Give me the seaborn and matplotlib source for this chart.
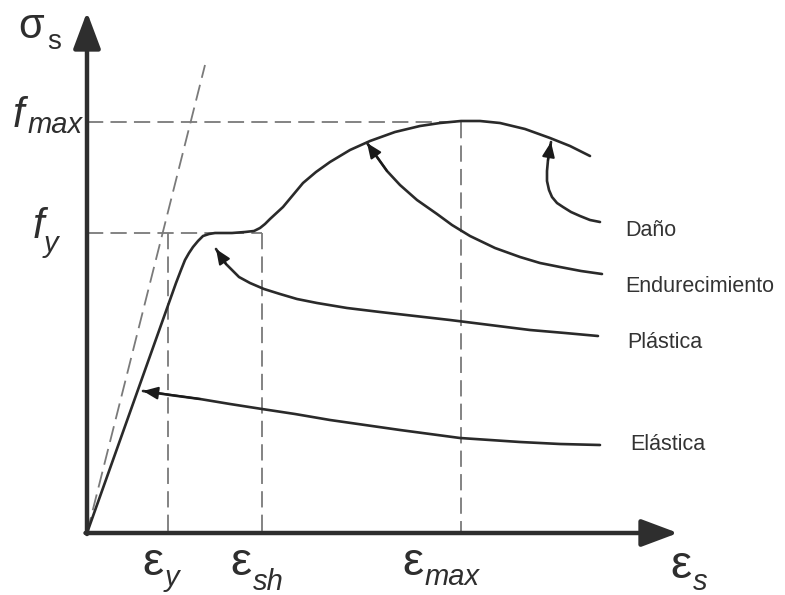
import matplotlib
matplotlib.use("Agg")
import matplotlib.pyplot as plt
import seaborn as sns
import pandas as pd
from matplotlib.patches import ArrowStyle

sns.set_theme(style="white")
plt.rcParams['font.family'] = ['Liberation Sans', 'DejaVu Sans']

# ---- key values (strain / stress units of the sketch) ----
eps_y, eps_sh, eps_max = 81, 175, 374
f_y, f_max = 300, 411

# ---- main stress-strain curve ----
main_strain = [0, 89, 94, 98, 102, 106, 111, 116, 122, 128, 145, 158, 167, 173, 178, 183, 196,
               206, 216, 229, 243, 263, 283, 308, 333, 353, 374, 393, 413, 438, 463, 483, 503]
main_stress = [0, 250, 263, 273, 280, 286, 292, 297, 299, 300, 300, 301, 302, 305, 309, 314, 326,
               338, 350, 361, 371, 383, 392, 401, 407, 410, 412, 412, 410, 404, 395, 387, 377]

# ---- elastic reference line (dashed) ----
ref_strain = [0, 118]
ref_stress = [0, 468]

# ---- stage pointer curves (from label end to arrow tip) ----
stage_names = ["Daño", "Endurecimiento", "Plástica", "Elástica"]
dano_x = [513, 503, 493, 484, 476, 470, 465, 462, 460, 460, 461, 463, 464]
dano_y = [311, 313, 317, 321, 326, 330, 336, 343, 352, 362, 373, 385, 391]
endu_x = [515, 494, 473, 453, 433, 408, 383, 365, 350, 330, 313, 300, 290, 280]
endu_y = [259, 262, 266, 270, 276, 285, 297, 308, 319, 333, 348, 362, 376, 390]
plas_x = [511, 478, 443, 403, 363, 328, 293, 260, 230, 210, 193, 177, 163, 152, 145, 139, 135, 129]
plas_y = [197, 200, 203, 208, 213, 217, 221, 225, 230, 234, 239, 244, 250, 256, 263, 269, 275, 284]
elas_x = [513, 473, 433, 403, 373, 343, 313, 278, 243, 208, 175, 143, 113, 83, 56]
elas_y = [88, 89, 91, 93, 95, 99, 103, 108, 113, 119, 124, 129, 134, 138, 142]
label_x = [538, 538, 540, 543]
label_y = [303, 246, 191, 88]

fig = plt.figure(figsize=(7.85, 5.95), dpi=100)
ax = fig.add_axes([0, 0, 1, 1])
ax.set_xlim(-87, 698)
ax.set_ylim(-62, 533)
ax.axis("off")

dash_style = (0, (9, 4))
guide_color = "#7a7a7a"
# dashed guides
sns.lineplot(x=ref_strain, y=ref_stress, ax=ax, sort=False, estimator=None,
             color=guide_color, lw=1.3, linestyle=dash_style)
for xs, ys in [([0, eps_max], [f_max, f_max]), ([eps_max, eps_max], [f_max, 0]),
               ([0, eps_sh], [f_y, f_y]), ([eps_y, eps_y], [f_y, 0]),
               ([eps_sh, eps_sh], [f_y, 0])]:
    sns.lineplot(x=xs, y=ys, ax=ax, sort=False, estimator=None,
                 color=guide_color, lw=1.3, linestyle=dash_style)

# main curve
df_main = pd.DataFrame({"strain": main_strain, "stress": main_stress})
sns.lineplot(data=df_main, x="strain", y="stress", ax=ax, sort=False, estimator=None,
             color="#2a2a2a", lw=1.9)

# pointer curves with arrowheads
small_head = ArrowStyle('-|>', head_length=0.9, head_width=0.38)
for xs, ys in [(dano_x, dano_y), (endu_x, endu_y), (plas_x, plas_y), (elas_x, elas_y)]:
    sns.lineplot(x=xs, y=ys, ax=ax, sort=False, estimator=None, color="#2a2a2a", lw=1.9)
    ax.annotate("", xy=(xs[-1], ys[-1]), xytext=(xs[-3], ys[-3]),
                arrowprops=dict(arrowstyle=small_head, color="#1a1a1a", lw=1.5,
                                mutation_scale=10, shrinkA=0, shrinkB=0))

for name, lx, ly in zip(stage_names, label_x, label_y):
    ax.text(lx, ly, name, fontsize=15.5, color="#333333", ha="left", va="center")

# axes arrows
big_head = ArrowStyle('-|>', head_length=1.12, head_width=0.42)
ax.annotate("", xy=(0, 521), xytext=(0, -1),
            arrowprops=dict(arrowstyle=big_head, color="#2e2e2e", lw=3.2,
                            mutation_scale=20, shrinkA=0, shrinkB=0))
ax.annotate("", xy=(591, 0), xytext=(-1.5, 0),
            arrowprops=dict(arrowstyle=big_head, color="#2e2e2e", lw=3.2,
                            mutation_scale=20, shrinkA=0, shrinkB=0))

# axis symbols
tc = "#2e2e2e"
ax.text(-69, 495, "σ", fontsize=30, color=tc, ha="left", va="baseline")
ax.text(-40, 484, "s", fontsize=20, color=tc, ha="left", va="baseline")
ax.text(-74, 406, "f", fontsize=30, style="italic", color=tc, ha="left", va="baseline")
ax.text(-59, 400, "max", fontsize=21, style="italic", color=tc, ha="left", va="baseline")
ax.text(-54, 295, "f", fontsize=30, style="italic", color=tc, ha="left", va="baseline")
ax.text(-43, 281, "y", fontsize=21, style="italic", color=tc, ha="left", va="baseline")

eps_subs = ["y", "sh", "max", "s"]
eps_pos = [(55, -42, 78, -53), (143, -42, 166, -57), (315, -42, 338, -52), (583, -45, 606, -57)]
for sub, (ex, ey, sx, sy) in zip(eps_subs, eps_pos):
    ax.text(ex, ey, "ε", fontsize=34, color=tc, ha="left", va="baseline")
    ax.text(sx, sy, sub, fontsize=21, style="italic", color=tc, ha="left", va="baseline")

fig.savefig("out.png", dpi=100)
